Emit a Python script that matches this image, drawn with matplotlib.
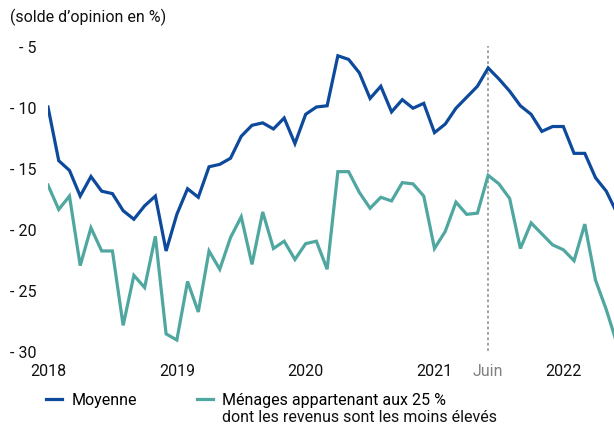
import matplotlib
matplotlib.use('Agg')
import matplotlib.pyplot as plt

plt.rcParams['font.family'] = ['Roboto', 'DejaVu Sans']

# ----------------------------------------------------- DONNEES (janv. 2018 -> juin 2022, mensuel)
moyenne = [-10.0, -14.4, -15.2, -17.3, -15.7, -16.9, -17.1, -18.5, -19.2, -18.1, -17.3, -21.8,
           -18.8, -16.7, -17.4, -14.9, -14.7, -14.2, -12.4, -11.5, -11.3, -11.8, -10.9, -13.0,
           -10.6, -10.0, -9.9, -5.8, -6.1, -7.2, -9.3, -8.3, -10.4, -9.4, -10.1, -9.7,
           -12.1, -11.4, -10.1, -9.2, -8.3, -6.8, -7.7, -8.7, -9.9, -10.6, -12.0, -11.6,
           -11.6, -13.8, -13.8, -15.8, -16.9, -18.7]
menages_25 = [-16.4, -18.4, -17.3, -23.0, -19.9, -21.8, -21.8, -27.9, -23.8, -24.8, -20.6, -28.6,
              -29.1, -24.3, -26.8, -21.8, -23.3, -20.7, -19.0, -22.9, -18.6, -21.6, -21.0, -22.5,
              -21.2, -21.0, -23.3, -15.3, -15.3, -17.0, -18.3, -17.4, -17.7, -16.2, -16.3, -17.3,
              -21.6, -20.2, -17.8, -18.8, -18.7, -15.6, -16.3, -17.5, -21.6, -19.5, -20.4, -21.3,
              -21.7, -22.6, -19.6, -24.2, -26.6, -29.4]
mois = list(range(len(moyenne)))

xticks_pos = [0, 12, 24, 36, 41, 48]
xticks_lbl = ['2018', '2019', '2020', '2021', 'Juin', '2022']
yticks_pos = [-5, -10, -15, -20, -25, -30]
yticks_lbl = ['- 5', '- 10', '- 15', '- 20', '- 25', '- 30']
juin = 41

bleu = '#0d4a9c'
vert = '#4fa7a0'
fs = 11.5

W, H = 614, 427
fig = plt.figure(figsize=(W / 100, H / 100), dpi=100)
fig.set_facecolor('white')

# axes : x=0 -> 48 px, x=53 -> ~617 px ; y=-5 -> 47 px, y=-30 -> 352 px
ax = fig.add_axes([48 / W, (H - 352) / H, (617 - 48) / W, (352 - 47) / H])
ax.plot(mois, moyenne, color=bleu, lw=2.3, solid_joinstyle='miter', label='Moyenne')
ax.plot(mois, menages_25, color=vert, lw=2.3, solid_joinstyle='miter',
        label='Ménages appartenant aux 25 %')
ax.axvline(juin, color='#9a9a9a', lw=1.3, ls=(0, (1.5, 1.5)), zorder=0)

ax.set_xlim(0, 53)
ax.set_ylim(-30, -5)
for s in ax.spines.values():
    s.set_visible(False)
ax.set_xticks(xticks_pos)
ax.set_xticklabels(xticks_lbl, fontsize=fs)
ax.set_yticks(yticks_pos)
ax.set_yticklabels(yticks_lbl, fontsize=fs)
ax.tick_params(axis='both', length=0, colors='#111111')
ax.tick_params(axis='x', pad=9)
ax.tick_params(axis='y', pad=8)
ax.get_xticklabels()[4].set_color('#808080')

fig.text(10 / W, 1 - 17 / H, '(solde d\u2019opinion en %)', fontsize=fs,
         ha='left', va='center', color='#111111')

leg = fig.legend(loc='upper left', bbox_to_anchor=(40 / W, 1 - 387 / H), ncol=2,
                 frameon=False, fontsize=fs, handlelength=1.0, handletextpad=0.55,
                 columnspacing=3.8, borderaxespad=0)
fig.canvas.draw()
# deuxieme ligne du libelle, alignee sous la premiere
t2 = leg.get_texts()[1]
bb = t2.get_window_extent()
fig.text(bb.x0 / W, (bb.y0 - 2) / H, 'dont les revenus sont les moins élevés',
         fontsize=fs, ha='left', va='top', color='#111111')

fig.savefig('out.png', dpi=100, facecolor='white')
